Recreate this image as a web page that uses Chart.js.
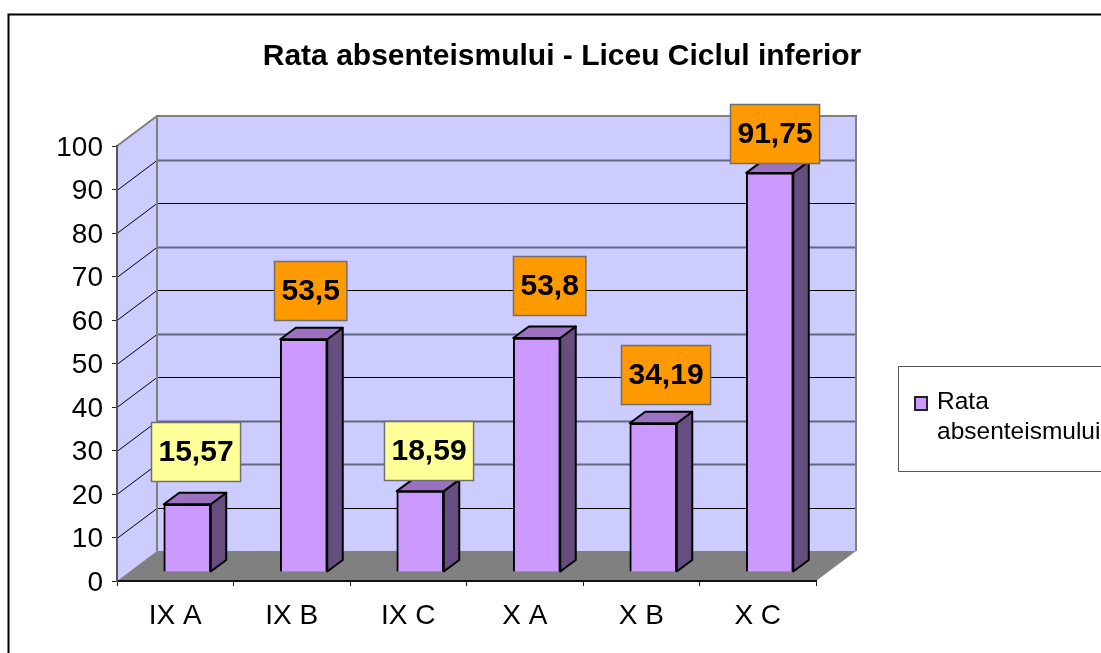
<!DOCTYPE html>
<html><head><meta charset="utf-8">
<script src="https://cdn.jsdelivr.net/npm/chart.js@4/dist/chart.umd.min.js"></script>
<style>html,body{margin:0;padding:0;background:#fff;overflow:hidden}canvas{display:block}</style>
</head><body><canvas id="c" width="1101" height="653" style="width:1101px;height:653px"></canvas>
<script>
const categories = ["IX A","IX B","IX C","X A","X B","X C"];
const seriesName = "Rata absenteismului";
const values = [15.57,53.5,18.59,53.8,34.19,91.75];
const labelColors = ["#FFFF99","#FF9900","#FFFF99","#FF9900","#FF9900","#FF9900"];
const labelShiftX = [8,6,8,12,12.5,5];
const labelShiftY = [-53,-48.5,-41,-52,-49,-39];
const yTicks = [0,10,20,30,40,50,60,70,80,90,100];
const softGrid = [20,30,50,70,90];
const legendLines = ["Rata","absenteismului"];
const titleText = "Rata absenteismului - Liceu Ciclul inferior";
const FONT = '"Liberation Sans", Arial, sans-serif';
const WALL = {dx:40, dy:-30}, BAR = {dx:12, dy:-9}, SIDE = {dx:15.5, dy:-11.5};

const scene = {
  id:'scene',
  beforeDraw(chart){
    const {ctx,chartArea:a,scales:{y}} = chart;
    const L=a.left,R=a.right,T=a.top,B=a.bottom,dx=WALL.dx,dy=WALL.dy;
    y.getLabelItems().forEach(it=>{ if(!it._moved){it.options.translation[1]+=2;it._moved=true;} });
    ctx.save();
    ctx.fillStyle='#fff';ctx.fillRect(0,0,chart.width,chart.height);
    // outer frame
    ctx.strokeStyle='#000';ctx.lineWidth=2;
    ctx.beginPath();ctx.moveTo(1102,14.5);ctx.lineTo(8.5,14.5);ctx.lineTo(8.5,654);ctx.stroke();
    // walls
    ctx.fillStyle='#CCCCFF';
    ctx.fillRect(L+dx,T+dy,R-L,B-T);
    ctx.beginPath();ctx.moveTo(L,T);ctx.lineTo(L+dx,T+dy);ctx.lineTo(L+dx,B+dy);ctx.lineTo(L,B);ctx.closePath();ctx.fill();
    // floor
    ctx.fillStyle='#808080';
    ctx.beginPath();ctx.moveTo(L,B);ctx.lineTo(L+dx,B+dy);ctx.lineTo(R+dx,B+dy);ctx.lineTo(R,B);ctx.closePath();ctx.fill();
    // gridlines: thin black on the side wall, thin or soft on the back wall
    yTicks.forEach(v=>{ if(v===0||v===100)return;
      const p=Math.round(y.getPixelForValue(v))+0.5;
      ctx.strokeStyle='#000';ctx.lineWidth=1;
      ctx.beginPath();ctx.moveTo(L,p);ctx.lineTo(L+dx,p+dy);ctx.stroke();
      if(softGrid.includes(v)){ctx.strokeStyle='#66667F';ctx.lineWidth=2;}
      ctx.beginPath();ctx.moveTo(L+dx,p+dy);ctx.lineTo(R+dx,p+dy);ctx.stroke();
    });
    // wall frame
    ctx.strokeStyle='#808080';ctx.lineWidth=2;
    ctx.beginPath();ctx.moveTo(L,T);ctx.lineTo(L+dx,T+dy);ctx.lineTo(R+dx,T+dy);ctx.lineTo(R+dx,B+dy);ctx.stroke();
    ctx.beginPath();ctx.moveTo(L+dx,T+dy);ctx.lineTo(L+dx,B+dy);ctx.stroke();
    // title
    ctx.fillStyle='#000';ctx.font='bold 30px '+FONT;ctx.textAlign='center';ctx.textBaseline='alphabetic';
    ctx.fillText(titleText,562,65);
    // legend
    ctx.strokeStyle='#555';ctx.lineWidth=1;
    ctx.beginPath();ctx.moveTo(1102,366.5);ctx.lineTo(898.5,366.5);ctx.lineTo(898.5,471.5);ctx.lineTo(1102,471.5);ctx.stroke();
    ctx.fillStyle='#CC99FF';ctx.strokeStyle='#222';ctx.lineWidth=2;
    ctx.fillRect(915,397,12,13);ctx.strokeRect(915,397,12,13);
    ctx.fillStyle='#000';ctx.font='24.5px '+FONT;ctx.textAlign='left';ctx.textBaseline='alphabetic';
    legendLines.forEach((t,i)=>ctx.fillText(t,937,409+i*30));
    ctx.restore();
  },
  beforeDatasetDraw(chart,args){
    const {ctx}=chart;
    ctx.save();
    ctx.translate(BAR.dx,BAR.dy);
    chart.getDatasetMeta(args.index).data.forEach(el=>{
      const l=el.x-el.width/2,r=el.x+el.width/2,t=el.y,b=el.base;
      ctx.strokeStyle='#000';ctx.lineWidth=2;ctx.lineJoin='round';
      ctx.fillStyle='#664E80';
      ctx.beginPath();ctx.moveTo(r,t);ctx.lineTo(r+SIDE.dx,t+SIDE.dy);ctx.lineTo(r+SIDE.dx,b+SIDE.dy);ctx.lineTo(r,b);ctx.closePath();ctx.fill();ctx.stroke();
      ctx.fillStyle='#9A72C0';
      ctx.beginPath();ctx.moveTo(l,t);ctx.lineTo(l+SIDE.dx,t+SIDE.dy);ctx.lineTo(r+SIDE.dx,t+SIDE.dy);ctx.lineTo(r,t);ctx.closePath();ctx.fill();ctx.stroke();
    });
  },
  afterDatasetDraw(chart){ chart.ctx.restore(); },
  afterDatasetsDraw(chart){
    const {ctx}=chart;
    const meta=chart.getDatasetMeta(0);
    ctx.save();
    ctx.font='bold 30px '+FONT;ctx.textAlign='center';ctx.textBaseline='middle';
    meta.data.forEach((el,i)=>{
      const s=String(values[i]).replace('.',',');
      const w=ctx.measureText(s).width+14,h=59;
      const cx=el.x+BAR.dx+labelShiftX[i],cy=el.y+BAR.dy+labelShiftY[i];
      const x=Math.round(cx-w/2)+0.5,y=Math.round(cy-h/2)+0.5;
      ctx.fillStyle=labelColors[i];ctx.fillRect(x,y,w,h);
      ctx.strokeStyle='#707070';ctx.lineWidth=1.5;ctx.strokeRect(x,y,w,h);
      ctx.fillStyle='#000';ctx.fillText(s,x+w/2,y+h/2+1);
    });
    ctx.restore();
  }
};

new Chart(document.getElementById('c'),{
  type:'bar',
  data:{labels:categories,datasets:[{label:seriesName,data:values,backgroundColor:'#CC99FF',borderColor:'#000',borderWidth:2,barThickness:47}]},
  options:{
    responsive:false,animation:false,
    layout:{padding:{top:146,right:285,bottom:0,left:0}},
    plugins:{legend:{display:false},title:{display:false},tooltip:{enabled:false}},
    scales:{
      x:{
        afterFit(s){s.height=72;},
        grid:{drawOnChartArea:false,tickLength:5,color:'#222',offset:true},
        border:{color:'#111',width:2},
        ticks:{color:'#000',font:{family:FONT,size:28},padding:13,maxRotation:0}
      },
      y:{
        min:0,max:100,
        afterFit(s){s.width=117;},
        afterBuildTicks(s){s.ticks=yTicks.map(v=>({value:v}));},
        grid:{drawOnChartArea:false,tickLength:5,color:'#222'},
        border:{color:'#555',width:2},
        ticks:{color:'#000',font:{family:FONT,size:28},padding:9}
      }
    }
  },
  plugins:[scene]
});
</script></body></html>
